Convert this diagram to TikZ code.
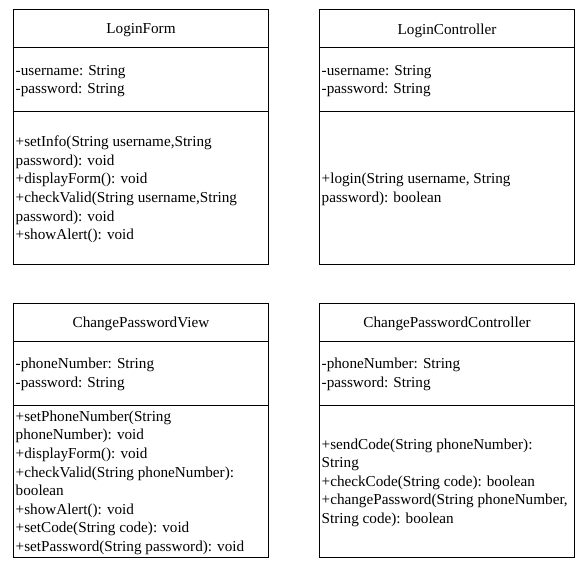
\documentclass[tikz,border=0pt]{standalone}
\usepackage{fontspec}
\setmainfont{Liberation Serif}
\begin{document}
\begin{tikzpicture}[x=1pt,y=-1pt,
 comp/.style={draw=black, line width=1pt, rectangle, minimum width=255pt, inner sep=0pt, outer sep=0pt, anchor=north west},
 txt/.style={font=\fontsize{15.2}{18.6}\selectfont, align=left, inner sep=0pt, anchor=west, yshift=-1.5pt},
 ttl/.style={font=\fontsize{15.2}{18.6}\selectfont, inner sep=0pt, yshift=-2pt}]
\useasboundingbox (0,0) rectangle (588,575);
% LoginForm
\node[comp, minimum height=38pt] (lfT) at (13.5,9.5) {};
\node[comp, minimum height=64pt] (lfA) at (lfT.south west) {};
\node[comp, minimum height=153pt] (lfM) at (lfA.south west) {};
\node[ttl] (lfTt) at (lfT.center) {LoginForm};
\node[txt] (lfAt) at ([xshift=2pt]lfA.west) {-username: String\\-password: String};
\node[txt] (lfMt) at ([xshift=2pt]lfM.west) {+setInfo(String username,String\\password): void\\+displayForm(): void\\+checkValid(String username,String\\password): void\\+showAlert(): void};
% LoginController
\node[comp, minimum height=38pt] (lcT) at (319.5,9.5) {};
\node[comp, minimum height=64pt] (lcA) at (lcT.south west) {};
\node[comp, minimum height=153pt] (lcM) at (lcA.south west) {};
\node[ttl] (lcTt) at (lcT.center) {LoginController};
\node[txt] (lcAt) at ([xshift=2pt]lcA.west) {-username: String\\-password: String};
\node[txt] (lcMt) at ([xshift=2pt]lcM.west) {+login(String username, String\\password): boolean};
% ChangePasswordView
\node[comp, minimum height=38pt] (cvT) at (13.5,303) {};
\node[comp, minimum height=64pt] (cvA) at (cvT.south west) {};
\node[comp, minimum height=152.5pt] (cvM) at (cvA.south west) {};
\node[ttl] (cvTt) at (cvT.center) {ChangePasswordView};
\node[txt] (cvAt) at ([xshift=2pt]cvA.west) {-phoneNumber: String\\-password: String};
\node[txt] (cvMt) at ([xshift=2pt]cvM.west) {+setPhoneNumber(String\\phoneNumber): void\\+displayForm(): void\\+checkValid(String phoneNumber):\\boolean\\+showAlert(): void\\+setCode(String code): void\\+setPassword(String password): void};
% ChangePasswordController
\node[comp, minimum height=38pt] (ccT) at (319.5,303) {};
\node[comp, minimum height=64pt] (ccA) at (ccT.south west) {};
\node[comp, minimum height=152.5pt] (ccM) at (ccA.south west) {};
\node[ttl] (ccTt) at (ccT.center) {ChangePasswordController};
\node[txt] (ccAt) at ([xshift=2pt]ccA.west) {-phoneNumber: String\\-password: String};
\node[txt] (ccMt) at ([xshift=2pt]ccM.west) {+sendCode(String phoneNumber):\\String\\+checkCode(String code): boolean\\+changePassword(String phoneNumber,\\String code): boolean};
\end{tikzpicture}
\end{document}
